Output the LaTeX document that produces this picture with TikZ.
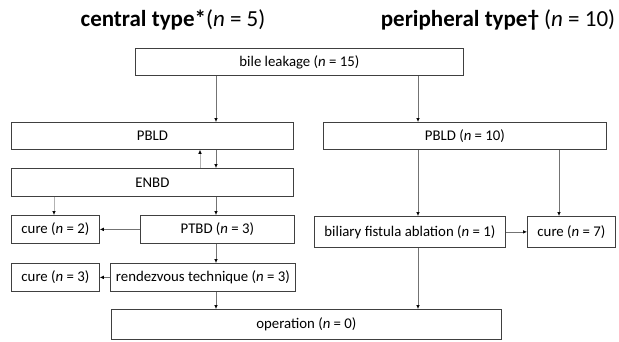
\documentclass[tikz,border=0pt]{standalone}
\usepackage{fontspec}
\setmainfont{Carlito}
\usetikzlibrary{arrows.meta}
\definecolor{boxline}{gray}{0.25}
\definecolor{arrline}{gray}{0.45}
\definecolor{lightarr}{gray}{0.7}
\tikzset{
  box/.style={draw=boxline, line width=0.8pt, anchor=north west, inner sep=0pt,
    font=\fontsize{14.8}{17}\selectfont, align=center},
  arr/.style={draw=arrline, line width=0.7pt, -{Latex[length=4pt,width=3.6pt,color=black]}},
  larr/.style={arr, draw=lightarr},
  title/.style={font=\fontsize{23}{26}\selectfont, anchor=base, inner sep=0pt}
}
\begin{document}
\begin{tikzpicture}[x=1pt,y=-1pt]
\useasboundingbox (0,0) rectangle (619,341);
\node[title] (t1) at (173,26) {\textbf{central type*}(\textit{n} = 5)};
\node[title] (t2) at (498,26) {\textbf{peripheral type†} (\textit{n} = 10)};
\node[box, minimum width=328pt, minimum height=27pt] (bile) at (135,48) {bile leakage (\textit{n} = 15)};
\node[box, minimum width=282pt, minimum height=27pt] (pbldL) at (11,122) {PBLD};
\node[box, minimum width=283pt, minimum height=27pt] (pbldR) at (323,122) {PBLD (\textit{n} = 10)};
\node[box, minimum width=282pt, minimum height=28pt] (enbd) at (11,168) {ENBD};
\node[box, minimum width=88pt, minimum height=28pt] (cure2) at (11,215) {cure (\textit{n} = 2)};
\node[box, minimum width=154pt, minimum height=28pt] (ptbd) at (140,215) {PTBD (\textit{n} = 3)};
\node[box, minimum width=191pt, minimum height=31pt] (bfa) at (314,216) {biliary fistula ablation (\textit{n} = 1)};
\node[box, minimum width=88pt, minimum height=31pt] (cure7) at (527,216) {cure (\textit{n} = 7)};
\node[box, minimum width=88pt, minimum height=28pt] (cure3) at (11,263) {cure (\textit{n} = 3)};
\node[box, minimum width=185pt, minimum height=28pt] (rdv) at (110,263) {rendezvous technique (\textit{n} = 3)};
\node[box, minimum width=390pt, minimum height=30pt] (oper) at (111,309) {operation (\textit{n} = 0)};
\coordinate (xa) at (216,0);
\coordinate (xb) at (418,0);
\coordinate (xc) at (200,0);
\coordinate (xd) at (54,0);
\coordinate (xe) at (559,0);
\draw[arr] (bile.south -| xa) -- (pbldL.north -| xa);
\draw[arr] (bile.south -| xb) -- (pbldR.north -| xb);
\draw[larr] (enbd.north -| xc) -- (pbldL.south -| xc);
\draw[arr] (pbldL.south -| xa) -- (enbd.north -| xa);
\draw[larr] (enbd.south -| xd) -- (cure2.north -| xd);
\draw[arr] (enbd.south -| xa) -- (ptbd.north -| xa);
\draw[arr] (ptbd.west) -- (cure2.east);
\draw[arr] (ptbd.south -| xa) -- (rdv.north -| xa);
\draw[arr] (rdv.west) -- (cure3.east);
\draw[arr] (rdv.south -| xa) -- (oper.north -| xa);
\draw[arr] (pbldR.south -| xb) -- (bfa.north -| xb);
\draw[arr] (pbldR.south -| xe) -- (cure7.north -| xe);
\draw[arr] (bfa.east) -- (cure7.west);
\draw[arr] (bfa.south -| xb) -- (oper.north -| xb);
\end{tikzpicture}
\end{document}
